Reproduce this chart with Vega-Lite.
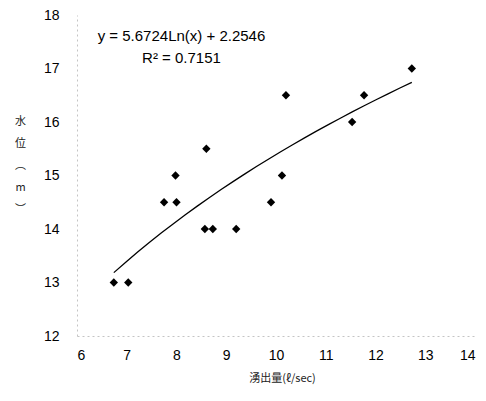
{
  "$schema": "https://vega.github.io/schema/vega-lite/v6.json",
  "width": 398,
  "height": 321,
  "autosize": "none",
  "padding": {"left": 77, "top": 15, "right": 11, "bottom": 65},
  "background": "white",
  "config": {
    "view": {"stroke": null},
    "font": "Liberation Sans",
    "axis": {"grid": false, "ticks": false, "domainColor": "#c4c4c4", "domainDash": [2, 3], "labelFont": "Liberation Sans", "labelFontSize": 14, "labelColor": "#000", "titleFont": "Noto Sans CJK JP", "titleFontWeight": "normal", "titleColor": "#222"}
  },
  "datasets": {
    "pts": [
      {"q": 6.74, "h": 13},
      {"q": 7.03, "h": 13},
      {"q": 7.75, "h": 14.5},
      {"q": 8.0, "h": 14.5},
      {"q": 7.98, "h": 15},
      {"q": 8.6, "h": 15.5},
      {"q": 8.57, "h": 14},
      {"q": 8.73, "h": 14},
      {"q": 9.2, "h": 14},
      {"q": 9.9, "h": 14.5},
      {"q": 10.12, "h": 15},
      {"q": 10.2, "h": 16.5},
      {"q": 11.53, "h": 16},
      {"q": 11.77, "h": 16.5},
      {"q": 12.73, "h": 17}
    ],
    "labels": [
      {"q": 8.1, "h": 17.6, "t": "y = 5.6724Ln(x) + 2.2546"},
      {"q": 8.1, "h": 17.2, "t": "R² = 0.7151"}
    ]
  },
  "layer": [
    {
      "data": {"name": "pts"},
      "transform": [{"regression": "h", "on": "q", "method": "log"}],
      "mark": {"type": "line", "color": "#000", "strokeWidth": 1.3},
      "encoding": {
        "x": {"field": "q", "type": "quantitative", "scale": {"domain": [6, 14]}, "axis": {"values": [6,7,8,9,10,11,12,13,14], "format": "d", "labelPadding": 12, "title": "湧出量(ℓ/sec)", "titleFontSize": 11, "titlePadding": 10, "titleX": 205}},
        "y": {"field": "h", "type": "quantitative", "scale": {"domain": [12, 18]}, "axis": {"values": [12,13,14,15,16,17,18], "format": "d", "labelPadding": 18, "title": ["水", "位", "︵", "m", "︶"], "titleAngle": 0, "titleFontSize": 11, "titleLineHeight": 22, "titleAlign": "center", "titleBaseline": "top", "titleX": -57, "titleY": 100}}
      }
    },
    {
      "data": {"name": "pts"},
      "mark": {"type": "point", "shape": "diamond", "filled": true, "color": "#000", "size": 70, "opacity": 1},
      "encoding": {
        "x": {"field": "q", "type": "quantitative"},
        "y": {"field": "h", "type": "quantitative"}
      }
    },
    {
      "data": {"name": "labels"},
      "mark": {"type": "text", "fontSize": 15, "color": "#000", "align": "center", "baseline": "middle"},
      "encoding": {
        "x": {"field": "q", "type": "quantitative"},
        "y": {"field": "h", "type": "quantitative"},
        "text": {"field": "t"}
      }
    }
  ]
}
